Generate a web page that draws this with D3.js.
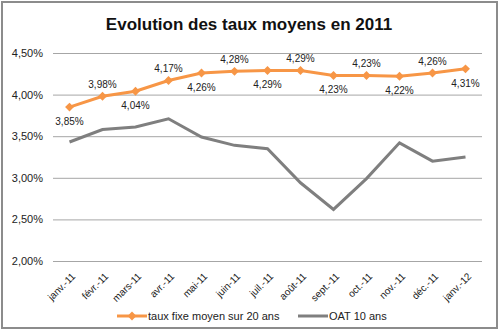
<!DOCTYPE html>
<html>
<head>
<meta charset="utf-8">
<script src="https://cdn.jsdelivr.net/npm/d3@7"></script>
<style>
  html, body { margin: 0; padding: 0; background: #fff; }
  svg { display: block; font-family: "Liberation Sans", Arial, sans-serif; }
</style>
</head>
<body>
<svg id="chart" width="500" height="331"></svg>
<script>
// Monthly categories (Jan 2011 – Jan 2012)
const months = ["janv.-11", "févr.-11", "mars-11", "avr.-11", "mai-11", "juin-11",
  "juil.-11", "août-11", "sept.-11", "oct.-11", "nov.-11", "déc.-11", "janv.-12"];
// Average 20-year fixed mortgage rate (%)
const tauxFixe = [3.85, 3.98, 4.04, 4.17, 4.26, 4.28, 4.29, 4.29, 4.23, 4.23, 4.22, 4.26, 4.31];
// 10-year French government bond yield (%)
const oat10 = [3.43, 3.58, 3.61, 3.71, 3.49, 3.39, 3.35, 2.94, 2.62, 2.99, 3.42, 3.20, 3.25];
// Y axis ticks (%)
const yTicks = [2.0, 2.5, 3.0, 3.5, 4.0, 4.5];

const seriesNames = ["taux fixe moyen sur 20 ans", "OAT 10 ans"];
const orange = "#F79646", grey = "#7f7f7f";

const svg = d3.select("#chart");
const fmt = v => d3.format(".2f")(v).replace(".", ",") + "%";

// outer frame
svg.append("rect").attr("x", 2).attr("y", 2).attr("width", 495).attr("height", 326)
  .attr("fill", "#fff").attr("stroke", "#8c8c8c").attr("stroke-width", 2);

// title
svg.append("text").attr("x", 249).attr("y", 30).attr("text-anchor", "middle")
  .attr("font-size", 17).attr("font-weight", "bold").attr("fill", "#111")
  .text("Evolution des taux moyens en 2011");

const x = d3.scalePoint().domain(months).range([53, 482]).padding(0.5);
const y = d3.scaleLinear().domain([2.0, 4.5]).range([261, 53]);

// gridlines + y labels
const yAxis = d3.axisLeft(y).tickValues(yTicks).tickSize(-(482 - 53)).tickFormat(fmt).tickPadding(10);
const gy = svg.append("g").attr("transform", "translate(53,0)").call(yAxis);
gy.select(".domain").remove();
gy.selectAll(".tick line").attr("stroke", "#a6a6a6");
gy.selectAll(".tick text").attr("font-size", 11).attr("fill", "#222")
  .attr("font-family", "Liberation Sans, Arial, sans-serif");

// x labels, rotated
const xAxis = d3.axisBottom(x).tickSize(0).tickPadding(0);
const gx = svg.append("g").attr("transform", "translate(0,261)").call(xAxis);
gx.select(".domain").remove();
gx.selectAll(".tick text")
  .attr("font-size", 10).attr("fill", "#222")
  .attr("font-family", "Liberation Sans, Arial, sans-serif")
  .attr("text-anchor", "end")
  .attr("dy", 0)
  .attr("transform", "translate(6,16) rotate(-45)");

const line = d3.line().x((d, i) => x(months[i])).y(d => y(d));

// OAT line
svg.append("path").datum(oat10).attr("d", line)
  .attr("fill", "none").attr("stroke", grey).attr("stroke-width", 3);

// fixed rate line
svg.append("path").datum(tauxFixe).attr("d", line)
  .attr("fill", "none").attr("stroke", orange).attr("stroke-width", 3);

const diamond = d3.symbol().type(d3.symbolDiamond2).size(50);
svg.append("g").selectAll("path").data(tauxFixe).join("path")
  .attr("d", diamond)
  .attr("transform", (d, i) => `translate(${x(months[i])},${y(d)})`)
  .attr("fill", orange);

// data labels, alternating below/above
svg.append("g").selectAll("text").data(tauxFixe).join("text")
  .attr("x", (d, i) => x(months[i]))
  .attr("y", (d, i) => y(d) + (i % 2 === 0 ? 18 : -8))
  .attr("text-anchor", "middle").attr("font-size", 10).attr("fill", "#222")
  .text(d => fmt(d));

// legend
const leg = svg.append("g");
const legItems = [
  { name: seriesNames[0], color: orange, x0: 117, marker: true },
  { name: seriesNames[1], color: grey, x0: 298, marker: false }
];
legItems.forEach(it => {
  leg.append("line").attr("x1", it.x0).attr("x2", it.x0 + 30).attr("y1", 316).attr("y2", 316)
    .attr("stroke", it.color).attr("stroke-width", 3);
  if (it.marker) {
    leg.append("path").attr("d", diamond).attr("transform", `translate(${it.x0 + 15},316)`)
      .attr("fill", it.color);
  }
  leg.append("text").attr("x", it.x0 + 31).attr("y", 320).attr("font-size", 11).attr("fill", "#222")
    .text(it.name);
});
</script>
</body>
</html>
